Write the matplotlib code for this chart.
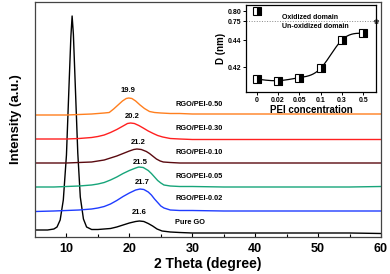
import numpy as np
import matplotlib
matplotlib.use("Agg")
import matplotlib.pyplot as plt

plt.rcParams['font.family'] = ['Liberation Sans', 'DejaVu Sans']
plt.rcParams['font.weight'] = 'bold'

# ---------------- main XRD data ----------------
go_x = [5, 6, 7, 8, 8.5, 9, 9.5, 10, 10.4, 10.7, 10.9, 11.1, 11.4, 11.8, 12.2, 12.7, 13.2, 14, 15, 16, 17, 18, 19, 20, 21, 21.6, 22.3, 23, 23.7, 24.4, 25.2, 26.5, 28, 30, 35, 40, 45, 50, 55, 60]
go_y = [7, 7, 7, 8, 10, 17, 37, 82, 150, 200, 221, 203, 152, 84, 40, 18, 10, 7.5, 7.5, 8, 8.5, 10, 12, 14, 15.5, 16, 15.5, 13.5, 11, 8, 6, 5, 4.5, 4, 4, 4, 4, 4, 4, 3.5]

p02_x = [5, 8, 10, 12, 14, 15, 16, 17, 18, 19, 20, 21, 21.7, 22.3, 23, 23.5, 24, 24.5, 25, 25.5, 26.5, 28, 30, 35, 40, 45, 50, 55, 60]
p02_y = [25.5, 26, 26.5, 27, 28, 29, 30.5, 33, 36.5, 40.5, 44, 47, 48, 47.5, 45, 42, 38, 34.5, 31, 29, 27, 26.5, 26.5, 26, 26, 26, 26, 26, 26]

p05_x = [5, 8, 10, 12, 14, 15, 16, 17, 18, 19, 20, 21, 21.5, 22.2, 23, 23.5, 24, 24.5, 25, 25.5, 26.5, 28, 30, 35, 40, 45, 50, 55, 60]
p05_y = [50, 50, 50.5, 51, 52, 53, 54.5, 57, 60, 63.5, 66.5, 69, 70, 69.5, 66.5, 63.5, 60, 56.5, 54, 52, 51, 50.5, 50.5, 50, 50, 50, 50, 50, 50.5]

p10_x = [5, 8, 10, 12, 14, 15, 16, 17, 18, 19, 20, 20.7, 21.2, 21.9, 22.7, 23.2, 23.8, 24.3, 24.9, 25.4, 26.5, 28, 30, 35, 40, 45, 50, 55, 60]
p10_y = [74, 74, 74, 74.5, 75, 76, 77, 79, 81, 83.5, 86, 87.5, 88, 87.5, 85.5, 83.5, 80.5, 78, 76, 75, 74.5, 74, 74, 74, 74, 74, 74, 74, 74]

p30_x = [5, 8, 10, 12, 14, 15, 16, 17, 18, 19, 19.7, 20.2, 20.8, 21.5, 22.2, 23, 23.8, 24.5, 25.3, 26.5, 28, 30, 35, 40, 45, 50, 55, 60]
p30_y = [98, 98, 98, 98.5, 99.5, 100.5, 102, 104.5, 107.5, 111, 113.5, 114, 113.5, 111.5, 109, 106, 103.5, 101.5, 100, 98.5, 98, 97.5, 97.5, 97.5, 97.5, 97.5, 97.5, 97.5]

p50_x = [5, 8, 10, 12, 14, 15, 16, 16.8, 17.5, 18.2, 18.9, 19.5, 19.9, 20.4, 21, 21.7, 22.4, 23.2, 24, 25, 26.5, 28, 30, 35, 40, 45, 50, 55, 60]
p50_y = [122, 122, 122, 122.5, 123, 123.5, 124, 124.5, 128, 132, 136, 138.5, 139, 138.5, 136, 132, 128.5, 125.5, 124.5, 124, 123.5, 123.5, 123, 123, 123, 123, 123, 123, 123]

series_names = ["Pure GO", "RGO/PEI-0.02", "RGO/PEI-0.05", "RGO/PEI-0.10", "RGO/PEI-0.30", "RGO/PEI-0.50"]
series_colors = ["#000000", "#1f3cff", "#17a57a", "#5a0a10", "#ff2020", "#ff7f1e"]
peak_labels = ["21.6", "21.7", "21.5", "21.2", "20.2", "19.9"]
peak_label_x = [21.5, 22.0, 21.7, 21.4, 20.4, 19.85]
peak_label_y = [25, 54, 75, 95, 120, 146]
name_label_y = [15, 38, 60, 84, 108, 132]
xs = [go_x, p02_x, p05_x, p10_x, p30_x, p50_x]
ys = [go_y, p02_y, p05_y, p10_y, p30_y, p50_y]

# ---------------- inset data ----------------
pei_labels = ["0", "0.02", "0.05", "0.1", "0.3", "0.5"]
d_values = [0.4111, 0.4099, 0.4121, 0.4190, 0.4400, 0.4450]
go_d = 0.80
boundary_d = 0.75

fig = plt.figure(figsize=(3.9, 2.74), dpi=100)
ax = fig.add_axes([35 / 390, 1 - 237 / 274, 346 / 390, 235 / 274])
for x, y, c in zip(xs, ys, series_colors):
    ax.plot(x, y, color=c, lw=1.0)
for t, lx, ly in zip(peak_labels, peak_label_x, peak_label_y):
    ax.text(lx, ly, t, ha='center', va='center', fontsize=5.5, fontweight='bold')
for n, ly in zip(series_names, name_label_y):
    ax.text(27.3, ly, n, ha='left', va='center', fontsize=5.3, fontweight='bold')

ax.set_xlim(5, 60)
ax.set_ylim(0, 235)
ax.set_xticks([10, 20, 30, 40, 50, 60])
ax.set_xticks([15, 25, 35, 45, 55], minor=True)
ax.set_yticks([])
ax.tick_params(axis='x', which='both', direction='in', top=False, labelsize=9, pad=4)
ax.tick_params(axis='x', which='major', length=3, width=0.8)
ax.tick_params(axis='x', which='minor', length=2, width=0.8)
for lab in ax.get_xticklabels():
    lab.set_fontweight('bold')
for s in ax.spines.values():
    s.set_linewidth(0.9)
    s.set_color('#444444')
ax.set_xlabel("2 Theta (degree)", fontsize=10, fontweight='bold', labelpad=2)
ax.set_ylabel("Intensity (a.u.)", fontsize=9.5, fontweight='bold', labelpad=9)

# ---------------- inset ----------------
yk = [0.40, 0.45, 0.75, 0.85]
tk = [-27.0, 40.5, 46.0, 66.0]
def fwd(v):
    return np.interp(v, yk, tk)
def inv(t):
    return np.interp(t, tk, yk)

ins = fig.add_axes([246 / 390, 1 - 92 / 274, 130 / 390, 87 / 274])
ins.set_yscale('function', functions=(fwd, inv))
pos = np.arange(len(pei_labels))

# natural cubic spline through the measured points (smooth guide line)
def natural_spline(xk, yv, xq):
    xk = np.asarray(xk, float); yv = np.asarray(yv, float)
    n = len(xk); h = np.diff(xk)
    A = np.zeros((n, n)); b = np.zeros(n)
    A[0, 0] = 1; A[-1, -1] = 1
    for i in range(1, n - 1):
        A[i, i - 1] = h[i - 1]; A[i, i] = 2 * (h[i - 1] + h[i]); A[i, i + 1] = h[i]
        b[i] = 3 * ((yv[i + 1] - yv[i]) / h[i] - (yv[i] - yv[i - 1]) / h[i - 1])
    c = np.linalg.solve(A, b)
    out = np.empty_like(xq)
    for j, xv in enumerate(xq):
        i = int(np.clip(np.searchsorted(xk, xv, side='right') - 1, 0, n - 2))
        bb = (yv[i + 1] - yv[i]) / h[i] - h[i] * (2 * c[i] + c[i + 1]) / 3
        dd = (c[i + 1] - c[i]) / (3 * h[i])
        dx = xv - xk[i]
        out[j] = yv[i] + bb * dx + c[i] * dx**2 + dd * dx**3
    return out

xq = np.linspace(pos[0], pos[-1], 200)
ins.plot(xq, natural_spline(pos, d_values, xq), color='black', lw=0.9, zorder=2)
ins.plot(pos, d_values, ls='none', marker='s', ms=5.5, mec='black', mew=0.8,
         fillstyle='right', mfc='black', mfcalt='white', zorder=3)
ins.plot([0], [go_d], ls='none', marker='s', ms=5.5, mec='black', mew=0.8,
         fillstyle='right', mfc='black', mfcalt='white', zorder=3)
ins.plot([-0.5, 5.6], [boundary_d, boundary_d], color='#888888', lw=0.7, ls=':',
         zorder=1)
ins.plot([5.6], [boundary_d], marker='*', ms=3.5, color='#555555', clip_on=False)
ins.text(1.2, 0.768, "Oxidized domain", fontsize=5, fontweight='bold', va='center', ha='left')
ins.text(1.2, 0.47, "Un-oxidized domain", fontsize=5, fontweight='bold', va='center', ha='left')

ins.set_xlim(-0.5, 5.6)
ins.set_ylim(0.4015, 0.83)
ins.set_xticks(pos)
ins.set_xticklabels(pei_labels)
ins.set_yticks([0.42, 0.44, 0.75, 0.80])
ins.set_yticklabels(["0.42", "0.44", "0.75", "0.80"])
ins.minorticks_off()
ins.tick_params(axis='both', direction='out', length=2, width=0.7, labelsize=5, pad=1.5)
for lab in ins.get_xticklabels() + ins.get_yticklabels():
    lab.set_fontweight('bold')
for s in ins.spines.values():
    s.set_linewidth(0.9)
ins.set_xlabel("PEI concentration", fontsize=7, fontweight='bold', labelpad=0.5)
ins.set_ylabel("D (nm)", fontsize=7, fontweight='bold', labelpad=1)

fig.savefig("out.png", dpi=100)
